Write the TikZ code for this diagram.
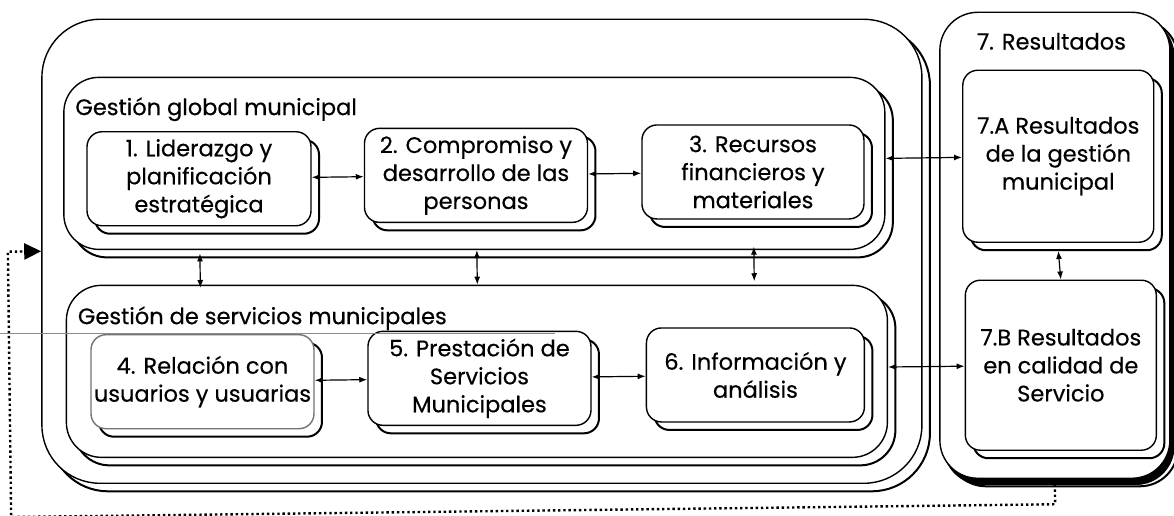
\documentclass[tikz,border=0pt]{standalone}
\usepackage{fontspec}
\setmainfont{Poppins}[FakeBold=0.4]
\usetikzlibrary{arrows.meta,shadows}

\begin{document}
\begin{tikzpicture}[x=1pt,y=-1pt,
	bx/.style={draw,line width=1.4pt,rounded corners=15pt,fill=white,align=center,inner sep=0pt,
		font=\fontsize{22.5}{28}\selectfont,
		copy shadow={shadow xshift=8pt,shadow yshift=-8pt,draw=black,fill=white,line width=2pt}},
	grp/.style={bx,rounded corners=35pt},
	big/.style={bx,rounded corners=58pt},
	res/.style={bx,rounded corners=38pt,copy shadow={shadow xshift=4pt,shadow yshift=-6pt,draw=black,fill=black}},
	lbl/.style={inner sep=0pt,font=\fontsize{22.5}{26}\selectfont},
	dbl/.style={{Latex[length=8pt,width=6pt]}-{Latex[length=8pt,width=6pt]},line width=1.2pt},
	fbline/.style={line width=2.4pt,dash pattern=on 2.4pt off 2.8pt,-{Triangle[length=17pt,width=16pt]}}]
	\useasboundingbox (0,0) rectangle (1174,516);

	\begin{scope}[rotate around={0.7:(587,258)}]
	\node[big,minimum width=880pt,minimum height=464pt] (outer) at (482,250) {};
	\node[res,minimum width=230pt,minimum height=466pt] (res) at (1055,251) {};
	\node[lbl] (l7) at (1054,47) {7. Resultados};

	\node[grp,minimum width=821pt,minimum height=172pt] (g1) at (475.5,162) {};
	\node[grp,minimum width=821pt,minimum height=172pt] (g2) at (475.5,370) {};
	\node[lbl,anchor=west] (l1) at (77,103) {Gestión global municipal};
	\node[lbl,anchor=west] (l2) at (77,312) {Gestión de servicios municipales};

	\node[bx,minimum width=224pt,minimum height=94pt] (b1) at (200,174) {1. Liderazgo y\\planificación\\estratégica};
	\node[bx,minimum width=223pt,minimum height=94pt] (b2) at (477,174) {2. Compromiso y\\desarrollo de las\\personas};
	\node[bx,minimum width=222pt,minimum height=94pt] (b3) at (754,174) {3. Recursos\\financieros y\\materiales};
	\node[bx,draw=black!55,minimum width=223pt,minimum height=94pt] (b4) at (201,377) {4. Relación con\\usuarios y usuarias};
	\node[bx,minimum width=223pt,minimum height=94pt] (b5) at (478,377) {5. Prestación de\\Servicios\\Municipales};
	\node[bx,minimum width=218pt,minimum height=94pt] (b6) at (754,377) {6. Información y\\análisis};

	\node[bx,minimum width=191pt,minimum height=172pt] (r7a) at (1059.5,162) {7.A Resultados\\de la gestión\\municipal};
	\node[bx,minimum width=191pt,minimum height=170pt] (r7b) at (1059.5,371) {7.B Resultados\\en calidad de\\Servicio};

	\draw[dbl] (b1) -- (b2);
	\draw[dbl] (b2) -- (b3);
	\draw[dbl] (b4) -- (b5);
	\draw[dbl] (b5) -- (b6);
	\draw[dbl] (b1 |- g1.south) -- (b1 |- g2.north);
	\draw[dbl] (b2 |- g1.south) -- (b2 |- g2.north);
	\draw[dbl] (b3 |- g1.south) -- (b3 |- g2.north);
	\draw[dbl] (g1) -- (r7a);
	\draw[dbl] (g2) -- (r7b);
	\draw[dbl] ([yshift=-8pt]r7a.south) -- (r7b.north);

	\coordinate (fb) at (8,510);
	\draw[fbline] (res.south) |- (fb) |- (outer.west);
	\end{scope}

	\draw[black!45,line width=0.8pt] (0,333) -- (555,333);
\end{tikzpicture}
\end{document}
